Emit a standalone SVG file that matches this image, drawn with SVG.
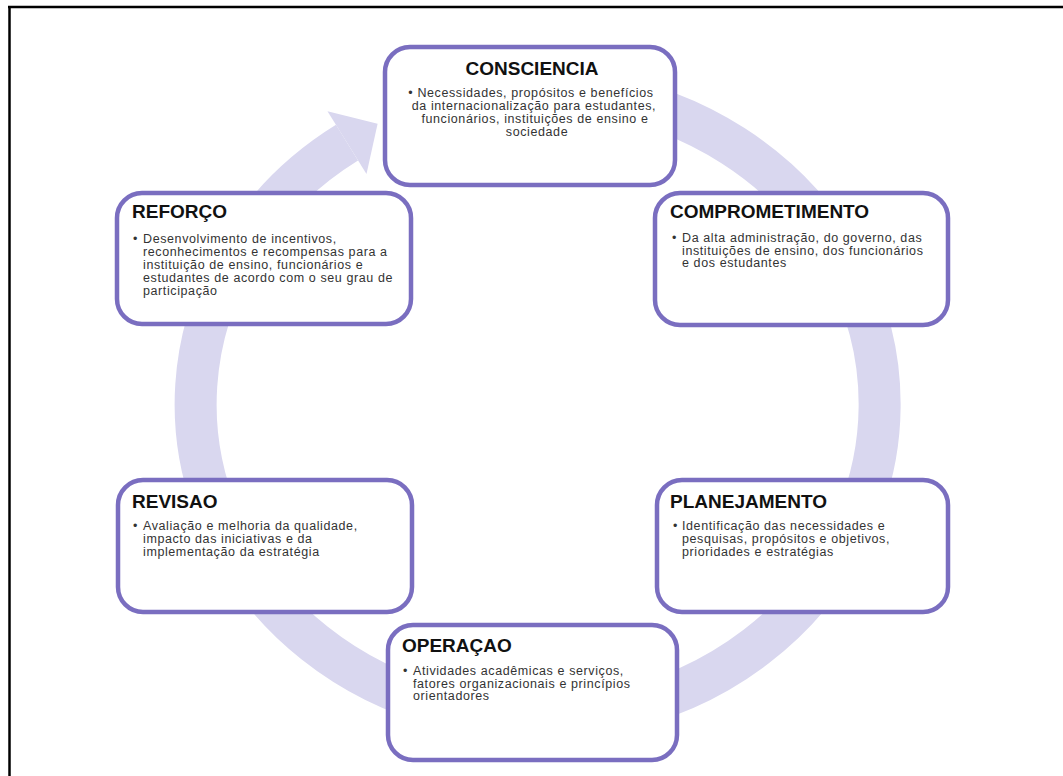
<svg xmlns="http://www.w3.org/2000/svg" width="1063" height="776" viewBox="0 0 1063 776">
<style>
.box{fill:#ffffff;stroke:#7a6ec0;stroke-width:4.5}
.t{font-family:"Liberation Sans",Arial,sans-serif;font-weight:bold;font-size:19px;fill:#111111}
.b{font-family:"Liberation Sans",Arial,sans-serif;font-size:12.5px;letter-spacing:0.6px;fill:#333333}
.ring{fill:none;stroke:#d9d7ef;stroke-width:42}
.head{fill:#d9d7ef}
</style>
<rect x="0" y="0" width="1063" height="776" fill="#ffffff"/>
<g id="frame">
<line x1="8" y1="7" x2="1063" y2="7" stroke="#000" stroke-width="2.5"/>
<line x1="9.5" y1="6" x2="9.5" y2="776" stroke="#000" stroke-width="2.5"/>
</g>
<g id="connectors">
<path class="ring" d="M 597 94 A 342 315 0 1 1 347 142.7"/>
<polygon class="head" points="327.5,111.3 377.6,123.7 366.5,174.1"/>
</g>
<g id="consciencia">
<rect class="box" x="385" y="47" width="290" height="138" rx="25"/>
<text class="t" x="532" y="75" text-anchor="middle">CONSCIENCIA</text>
<text class="b" text-anchor="middle">
<tspan x="533" y="96.5">• Necessidades, propósitos e benefícios</tspan>
<tspan x="536" y="109.8">da internacionalização para estudantes,</tspan>
<tspan x="537" y="123.1">funcionários, instituições de ensino e</tspan>
<tspan x="537" y="136.4">sociedade</tspan>
</text>
</g>
<g id="comprometimento">
<rect class="box" x="655" y="193" width="293" height="132" rx="25"/>
<text class="t" x="670" y="218">COMPROMETIMENTO</text>
<text class="b">
<tspan x="672" y="242">•</tspan>
<tspan x="682" y="242">Da alta administração, do governo, das</tspan>
<tspan x="682" y="254.7">instituições de ensino, dos funcionários</tspan>
<tspan x="682" y="267.4">e dos estudantes</tspan>
</text>
</g>
<g id="reforco">
<rect class="box" x="117" y="193" width="294" height="131" rx="25"/>
<text class="t" x="132" y="218">REFORÇO</text>
<text class="b">
<tspan x="133" y="243">•</tspan>
<tspan x="143" y="243">Desenvolvimento de incentivos,</tspan>
<tspan x="143" y="256">reconhecimentos e recompensas para a</tspan>
<tspan x="143" y="269">instituição de ensino, funcionários e</tspan>
<tspan x="143" y="282">estudantes de acordo com o seu grau de</tspan>
<tspan x="143" y="295">participação</tspan>
</text>
</g>
<g id="revisao">
<rect class="box" x="118" y="480" width="294" height="132" rx="25"/>
<text class="t" x="132" y="508">REVISAO</text>
<text class="b">
<tspan x="133" y="530">•</tspan>
<tspan x="143" y="530">Avaliação e melhoria da qualidade,</tspan>
<tspan x="143" y="543">impacto das iniciativas e da</tspan>
<tspan x="143" y="556">implementação da estratégia</tspan>
</text>
</g>
<g id="planejamento">
<rect class="box" x="657" y="480" width="291" height="132" rx="25"/>
<text class="t" x="670" y="508">PLANEJAMENTO</text>
<text class="b">
<tspan x="673" y="530">•</tspan>
<tspan x="682" y="530">Identificação das necessidades e</tspan>
<tspan x="682" y="543">pesquisas, propósitos e objetivos,</tspan>
<tspan x="682" y="556">prioridades e estratégias</tspan>
</text>
</g>
<g id="operacao">
<rect class="box" x="388" y="625" width="289" height="135" rx="25"/>
<text class="t" x="402" y="652">OPERAÇAO</text>
<text class="b">
<tspan x="403" y="675">•</tspan>
<tspan x="413" y="675">Atividades acadêmicas e serviços,</tspan>
<tspan x="413" y="687.7">fatores organizacionais e princípios</tspan>
<tspan x="413" y="700.4">orientadores</tspan>
</text>
</g>
</svg>
